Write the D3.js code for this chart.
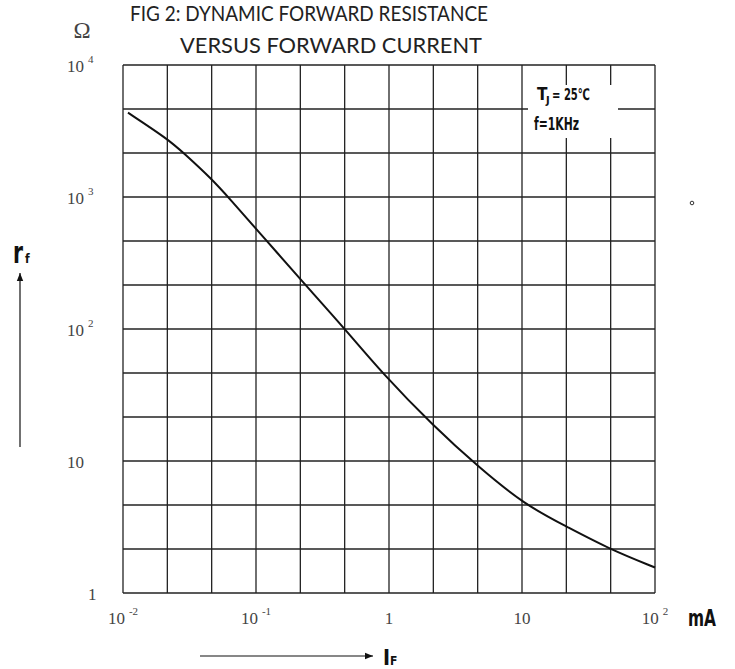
<!DOCTYPE html>
<html>
<head>
<meta charset="utf-8">
<script src="https://cdn.jsdelivr.net/npm/d3@7"></script>
<style>
  body { margin: 0; background: #fff; }
  svg { display: block; }
  .cond { font-family: "DejaVu Sans Condensed", "DejaVu Sans", sans-serif; font-stretch: condensed; font-weight: bold; }
  .tick { font-family: "Liberation Serif", "DejaVu Serif", serif; fill: #444; }
</style>
</head>
<body>
<script>
// forward current (mA) and dynamic resistance (ohm)
let currentMA  = [0.0109, 0.0217, 0.0282, 0.0465, 0.0615, 0.120, 0.218, 0.467, 0.881, 2.18, 4.67, 10.5, 21.7, 45.9, 100];
let resistance = [4355, 2750, 2183, 1368, 1005, 467, 235, 100, 46.7, 18.2, 9.06, 4.65, 3.18, 2.14, 1.56];

let xTickValues = [0.01, 0.1, 1, 10, 100];
let xTickLabels = [['10', '-2'], ['10', '-1'], ['1', ''], ['10', ''], ['10', '2']];
let yTickValues = [10000, 1000, 100, 10, 1];
let yTickLabels = [['10', '4'], ['10', '3'], ['10', '2'], ['10', ''], ['1', '']];

let gridPerDecade = 3;

let svg = d3.select('body').append('svg').attr('width', 735).attr('height', 669);

let x = d3.scaleLog().domain([0.01, 100]).range([123, 655]);
let y = d3.scaleLog().domain([1, 10000]).range([593, 65]);

// grid lines, evenly spaced in log space
let xGrid = d3.range(-2 * gridPerDecade, 2 * gridPerDecade + 1).map(k => Math.pow(10, k / gridPerDecade));
let yGrid = d3.range(0, 4 * gridPerDecade + 1).map(k => Math.pow(10, k / gridPerDecade));

let grid = svg.append('g').attr('stroke', '#222').attr('stroke-width', 1.3);
grid.selectAll('line.v').data(xGrid).enter().append('line')
    .attr('class', 'v')
    .attr('x1', d => x(d)).attr('x2', d => x(d))
    .attr('y1', y(1)).attr('y2', y(10000));
grid.selectAll('line.h').data(yGrid).enter().append('line')
    .attr('class', 'h')
    .attr('x1', x(0.01)).attr('x2', x(100))
    .attr('y1', d => y(d)).attr('y2', d => y(d));

// legend box knocks out the grid
svg.append('rect').attr('x', 528).attr('y', 85).attr('width', 90).attr('height', 53).attr('fill', '#fff');

svg.append('text').attr('class', 'cond').attr('x', 537).attr('y', 100).attr('font-size', 17).attr('fill', '#111').text('T');
svg.append('text').attr('class', 'cond').attr('x', 546).attr('y', 104).attr('font-size', 11).attr('fill', '#111').text('J');
svg.append('text').attr('class', 'cond').attr('x', 552).attr('y', 100).attr('font-size', 16).attr('font-weight', 'normal')
    .attr('textLength', 38).attr('lengthAdjust', 'spacingAndGlyphs').attr('fill', '#111').text('= 25℃');
svg.append('text').attr('class', 'cond').attr('x', 534).attr('y', 130).attr('font-size', 17)
    .attr('textLength', 45).attr('lengthAdjust', 'spacingAndGlyphs').attr('fill', '#111').text('f=1KHz');

// curve
let line = d3.line().x(d => x(d[0])).y(d => y(d[1])).curve(d3.curveBasis);
svg.append('path')
    .datum(currentMA.map((c, i) => [c, resistance[i]]))
    .attr('d', line)
    .attr('fill', 'none')
    .attr('stroke', '#111')
    .attr('stroke-width', 2);

// tick labels
let xt = svg.selectAll('text.xt').data(xTickValues).enter().append('text')
    .attr('class', 'tick xt')
    .attr('x', d => x(d))
    .attr('y', 624)
    .attr('text-anchor', 'middle')
    .attr('font-size', 17);
xt.append('tspan').text((d, i) => xTickLabels[i][0]);
xt.append('tspan').attr('font-size', 11).attr('dx', 4).attr('dy', -9).text((d, i) => xTickLabels[i][1]);

let yt = svg.selectAll('text.yt').data(yTickValues).enter().append('text')
    .attr('class', 'tick yt')
    .attr('x', (d, i) => yTickLabels[i][0] === '1' ? 88 : 67)
    .attr('y', d => y(d) + 7)
    .attr('font-size', 17);
yt.append('tspan').text((d, i) => yTickLabels[i][0]);
yt.append('tspan').attr('font-size', 11).attr('dx', 4).attr('dy', -9).text((d, i) => yTickLabels[i][1]);

svg.append('text').attr('class', 'tick').attr('x', 82).attr('y', 38).attr('text-anchor', 'middle')
    .attr('font-size', 23).attr('fill', '#222').text('Ω');

// title
let titleFont = 'Lato, "Open Sans", sans-serif';
svg.append('text').attr('x', 130).attr('y', 21).attr('font-family', titleFont).attr('font-size', 22)
    .attr('textLength', 358).attr('lengthAdjust', 'spacingAndGlyphs').attr('fill', '#222')
    .text('FIG 2: DYNAMIC FORWARD RESISTANCE');
svg.append('text').attr('x', 180).attr('y', 53).attr('font-family', titleFont).attr('font-size', 22)
    .attr('textLength', 302).attr('lengthAdjust', 'spacingAndGlyphs').attr('fill', '#222')
    .text('VERSUS FORWARD CURRENT');

// axis names and arrows
svg.append('defs').append('marker')
    .attr('id', 'arr').attr('viewBox', '0 0 10 10').attr('refX', 10).attr('refY', 5)
    .attr('markerWidth', 7).attr('markerHeight', 7).attr('orient', 'auto')
    .append('path').attr('d', 'M0,1 L10,5 L0,9 Z').attr('fill', '#111');

svg.append('line').attr('x1', 20).attr('y1', 447).attr('x2', 20).attr('y2', 273)
    .attr('stroke', '#111').attr('stroke-width', 1.2).attr('marker-end', 'url(#arr)');
svg.append('line').attr('x1', 200).attr('y1', 656).attr('x2', 373).attr('y2', 656)
    .attr('stroke', '#111').attr('stroke-width', 1.2).attr('marker-end', 'url(#arr)');

svg.append('text').attr('class', 'cond').attr('x', 13).attr('y', 263).attr('font-size', 30)
    .attr('textLength', 10).attr('lengthAdjust', 'spacingAndGlyphs').attr('fill', '#111').text('r');
svg.append('text').attr('class', 'cond').attr('x', 25).attr('y', 263).attr('font-size', 12).attr('fill', '#111').text('f');

svg.append('text').attr('class', 'cond').attr('x', 383).attr('y', 665).attr('font-size', 21).attr('fill', '#111').text('I');
svg.append('text').attr('class', 'cond').attr('x', 390).attr('y', 665).attr('font-size', 12).attr('fill', '#111').text('F');

svg.append('text').attr('class', 'cond').attr('x', 688).attr('y', 626).attr('font-size', 23)
    .attr('textLength', 28).attr('lengthAdjust', 'spacingAndGlyphs').attr('fill', '#111').text('mA');

svg.append('circle').attr('cx', 692).attr('cy', 203).attr('r', 1.8)
    .attr('fill', 'none').attr('stroke', '#333').attr('stroke-width', 1);
</script>
</body>
</html>
